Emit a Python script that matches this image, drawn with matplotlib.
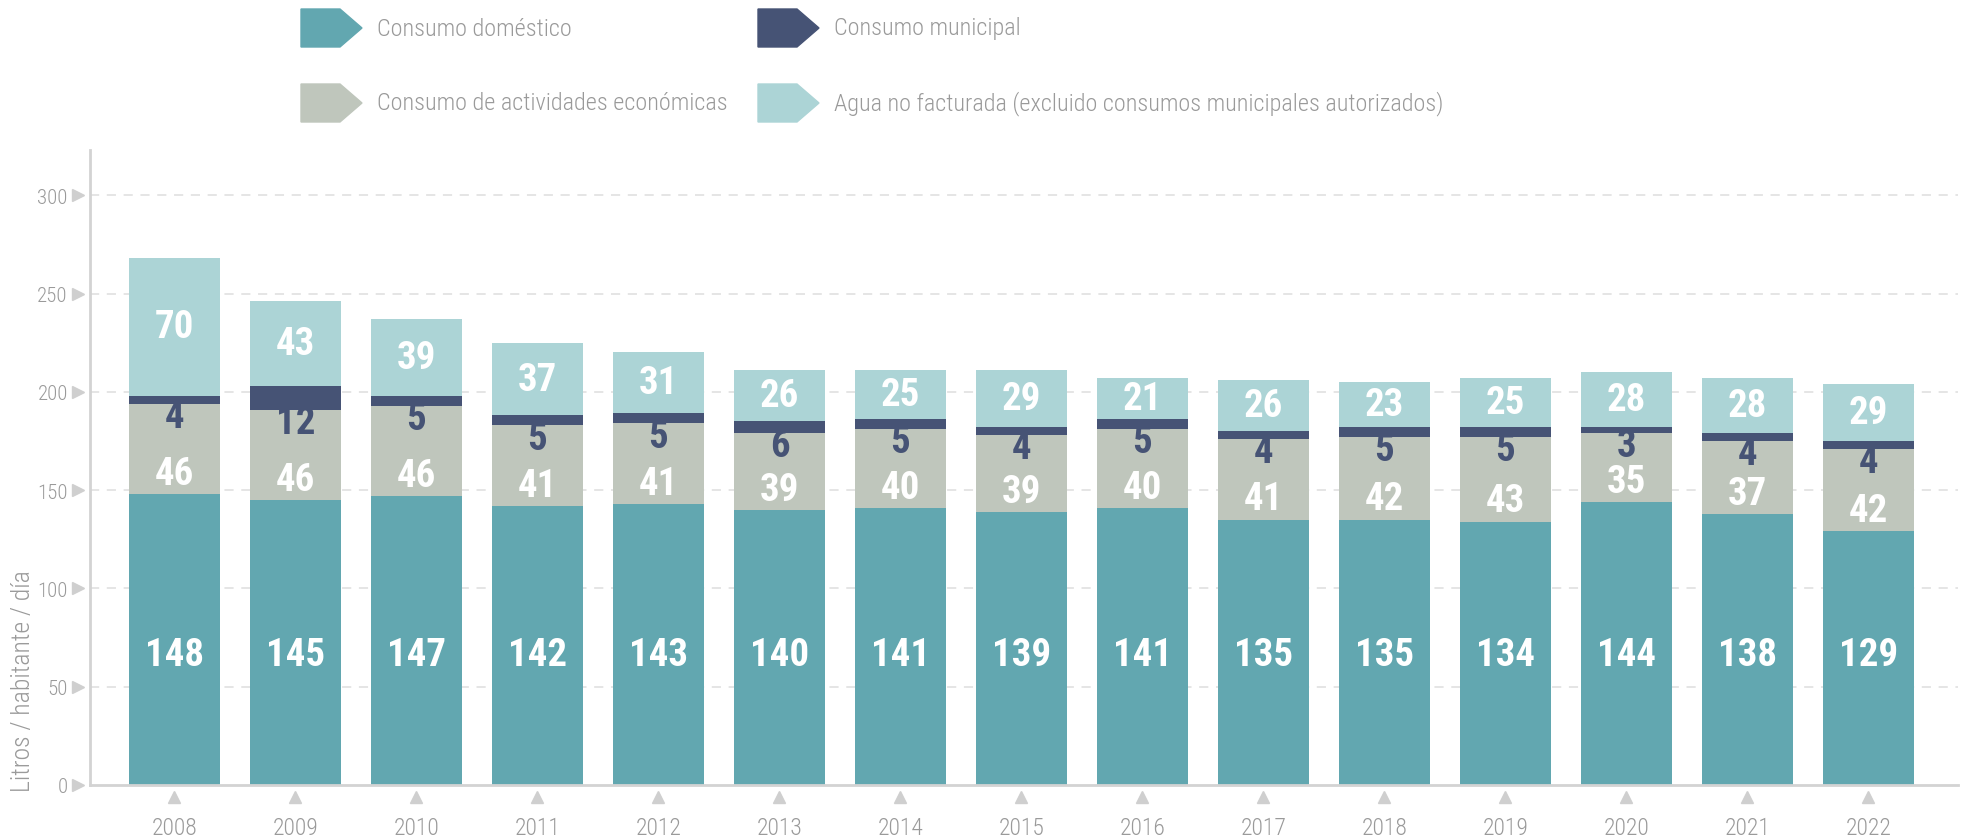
import matplotlib
matplotlib.use("Agg")
import matplotlib.pyplot as plt
from matplotlib import font_manager
from matplotlib.patches import Polygon

# datos (litros / habitante / día)
years = ["2008", "2009", "2010", "2011", "2012", "2013", "2014", "2015",
         "2016", "2017", "2018", "2019", "2020", "2021", "2022"]
domestico = [148, 145, 147, 142, 143, 140, 141, 139, 141, 135, 135, 134, 144, 138, 129]
economicas = [46, 46, 46, 41, 41, 39, 40, 39, 40, 41, 42, 43, 35, 37, 42]
municipal = [4, 12, 5, 5, 5, 6, 5, 4, 5, 4, 5, 5, 3, 4, 4]
no_facturada = [70, 43, 39, 37, 31, 26, 25, 29, 21, 26, 23, 25, 28, 28, 29]

series_names = ["Consumo doméstico", "Consumo municipal",
                "Consumo de actividades económicas",
                "Agua no facturada (excluido consumos municipales autorizados)"]

c_dom = "#62a7b0"
c_eco = "#bfc6bc"
c_mun = "#465375"
c_nof = "#acd4d6"
c_txt = "#9a9a9a"
c_axis = "#d3d3d3"

# buscar una fuente estrecha instalada
installed = {f.name for f in font_manager.fontManager.ttflist}
narrow = [n for n in ["Roboto Condensed", "Liberation Sans Narrow", "Open Sans Condensed",
                      "DejaVu Sans Condensed"] if n in installed]
fam = narrow[0] if narrow else "DejaVu Sans"
plt.rcParams["font.family"] = [fam, "DejaVu Sans"]

W, H = 1968, 837
fig = plt.figure(figsize=(W / 100, H / 100), dpi=100)
ax = fig.add_axes([90 / W, 1 - 786 / H, (1958 - 90) / W, (786 - 151) / H])

x = list(range(len(years)))
bw = 0.75
bot2 = [d + e for d, e in zip(domestico, economicas)]
bot3 = [b + m for b, m in zip(bot2, municipal)]

ax.bar(x, domestico, bw, color=c_dom, zorder=2)
ax.bar(x, economicas, bw, bottom=domestico, color=c_eco, zorder=2)
ax.bar(x, municipal, bw, bottom=bot2, color=c_mun, zorder=2)
ax.bar(x, no_facturada, bw, bottom=bot3, color=c_nof, zorder=2)

# etiquetas
lab = dict(ha="center", va="center", fontsize=28, fontweight="bold", zorder=3)
for i in x:
    ax.text(i, 66.6, str(domestico[i]), color="white", **lab)
    ax.text(i, domestico[i] + 10.5, str(economicas[i]), color="white", **lab)
    ax.text(i, bot2[i] - 6.5, str(municipal[i]), color=c_mun, **lab)
    ax.text(i, bot3[i] + no_facturada[i] / 2, str(no_facturada[i]), color="white", **lab)

ax.set_xlim(-0.698, 14.74)
ax.set_ylim(0, 323)
ax.set_yticks(range(0, 301, 50))
ax.set_xticks(x)
ax.set_xticklabels(years)
ax.tick_params(axis="y", length=0, pad=16, labelsize=15, labelcolor=c_txt)
ax.tick_params(axis="x", length=0, pad=22, labelsize=17, labelcolor=c_txt)
for lbl in ax.get_xticklabels() + ax.get_yticklabels():
    lbl.set_fontweight("light")

for t in range(50, 301, 50):
    ax.axhline(t, color="#dedede", lw=1.1, ls=(0, (6, 5)), zorder=0)

for s in ["top", "right"]:
    ax.spines[s].set_visible(False)
for s in ["left", "bottom"]:
    ax.spines[s].set_color(c_axis)
    ax.spines[s].set_linewidth(2)
    ax.spines[s].set_zorder(3)

# marcadores de los ticks (triángulos)
ytr = ax.get_yaxis_transform()
for t in range(0, 301, 50):
    ax.plot(-0.0066, t, marker=">", ms=8, color="#cfcfcf", transform=ytr, clip_on=False)
xtr = ax.get_xaxis_transform()
for i in x:
    ax.plot(i, -0.019, marker="^", ms=9, color="#cfcfcf", transform=xtr, clip_on=False)

ax.text(-0.036, -0.01, "Litros / habitante / día", rotation=90, ha="center", va="bottom",
        fontsize=18.5, fontweight="light", color=c_txt, transform=ax.transAxes)

# leyenda
colors = [c_dom, c_mun, c_eco, c_nof]
legend_pos = [(301, 29), (758, 29), (301, 104), (758, 104)]
for name, col, (lx, ly) in zip(series_names, colors, legend_pos):
    pts = [(lx, ly - 19), (lx + 39, ly - 19), (lx + 61, ly), (lx + 39, ly + 19), (lx, ly + 19)]
    fig.patches.append(Polygon([(px / W, 1 - py / H) for px, py in pts], closed=True,
                               color=col, transform=fig.transFigure))
    fig.text((lx + 76) / W, 1 - ly / H, name, ha="left", va="center",
             fontsize=17.5, fontweight="light", color=c_txt)

fig.savefig("out.png", dpi=100)
